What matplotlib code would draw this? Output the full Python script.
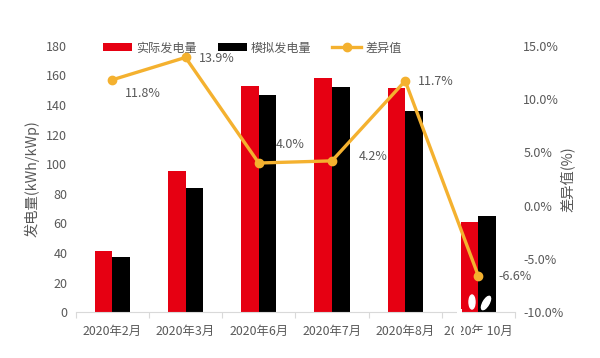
import matplotlib
matplotlib.use('Agg')
import matplotlib.pyplot as plt
from matplotlib.patches import Ellipse, Rectangle

plt.rcParams['font.family'] = ['Noto Sans CJK SC', 'DejaVu Sans']
plt.rcParams['axes.unicode_minus'] = False

months = ['2020年2月', '2020年3月', '2020年6月', '2020年7月', '2020年8月', '2020年 10月']
actual = [41.4, 95.4, 152.8, 158.4, 151.7, 60.8]
simulated = [37.1, 83.7, 147.0, 152.1, 135.7, 64.8]
diff = [11.8, 13.9, 4.0, 4.2, 11.7, -6.6]

W, H = 600, 358
GREY = '#595959'
RED = '#E60012'
YELLOW = '#F4B12F'

fig = plt.figure(figsize=(W / 100, H / 100), dpi=100)
ax = fig.add_axes([75.7 / W, 1 - 312.3 / H, (515 - 75.7) / W, (312.3 - 45.7) / H])
ax2 = ax.twinx()

x = list(range(len(months)))
w = 0.24
b1 = ax.bar([i - w / 2 for i in x], actual, w, color=RED, label='实际发电量')
b2 = ax.bar([i + w / 2 for i in x], simulated, w, color='black', label='模拟发电量')
l1, = ax2.plot(x, diff, color=YELLOW, lw=2.4, marker='o', ms=6, label='差异值')

ax.set_xlim(-0.5, 5.5)
ax.set_ylim(0, 180)
ax.set_yticks(range(0, 181, 20))
ax2.set_ylim(-10, 15)
ax2.set_yticks([-10, -5, 0, 5, 10, 15])
ax2.set_yticklabels([f'{v:.1f}%' for v in [-10, -5, 0, 5, 10, 15]])

ax.set_xticks([i - 0.5 for i in range(7)])
ax.set_xticklabels([])
ax.set_xticks(x, minor=True)
ax.set_xticklabels(months, minor=True)
ax.tick_params(axis='x', which='major', length=4, color='#D9D9D9', width=0.8)
ax.tick_params(axis='x', which='minor', length=0, pad=9, labelsize=8.9, labelcolor=GREY)
ax.tick_params(axis='y', length=0, pad=6, labelsize=9, labelcolor=GREY)
ax2.tick_params(axis='y', length=0, pad=6, labelsize=9, labelcolor=GREY)

for a in (ax, ax2):
    for s in a.spines.values():
        s.set_visible(False)
ax.spines['bottom'].set_visible(True)
ax.spines['bottom'].set_color('#D9D9D9')

fig.text(32 / W, 1 - 179 / H, '发电量(kWh/kWp)', rotation=90, color=GREY, fontsize=10.3,
         ha='center', va='center')
fig.text(567 / W, 1 - 179 / H, '差异值(%)', rotation=90, color=GREY, fontsize=10.3,
         ha='center', va='center')

# label offsets in pixels from each point
offsets = [(31, -14), (31, -1), (31, 19), (41, 4), (31, -1), (37, 0)]
for i, v in enumerate(diff):
    ax2.annotate(f'{v:.1f}%', (i, v), xytext=(offsets[i][0] * 0.72, offsets[i][1] * 0.72),
                 textcoords='offset points', ha='center', va='center', fontsize=9, color=GREY)

leg = ax.legend(handles=[b1, b2, l1], ncol=3, frameon=False, loc='center left',
                bbox_to_anchor=(103 / W, 1 - 48 / H), bbox_transform=fig.transFigure,
                fontsize=8.7, labelcolor=GREY, handlelength=2.4, handleheight=0.66,
                handletextpad=0.33, columnspacing=1.74, borderpad=0, borderaxespad=0)
leg.set_zorder(10)
ax.set_zorder(ax2.get_zorder() - 1)
ax2.patch.set_visible(False)

# white droplets and smudges over the last bars and label
for cx, cy, ew, eh, ang in [(472, 302, 6, 14, 0), (486, 303, 6, 15, -30)]:
    fig.add_artist(Ellipse((cx, H - cy), ew, eh, angle=ang, color='white',
                           transform=None, zorder=20))
for rx, ry, rw, rh in [(457, 309, 5, 6), (454, 322, 7, 14), (475, 331, 9, 6)]:
    fig.add_artist(Rectangle((rx, H - ry - rh), rw, rh, color='white', lw=0,
                             transform=None, zorder=20))

fig.savefig('out.png', dpi=100)
